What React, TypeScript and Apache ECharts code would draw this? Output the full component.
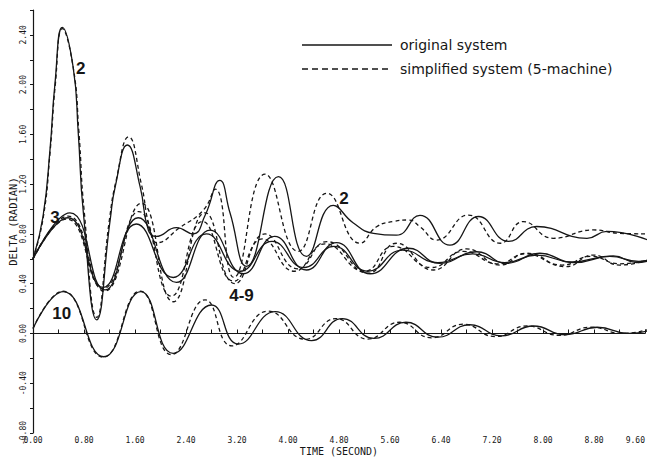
import React, { useEffect, useRef } from "react";
import * as echarts from "echarts";

// ---- data (time in seconds, delta in radians) ----
const m2OrigT = [0, 0.157, 0.267, 0.345, 0.46, 0.63, 0.71, 0.79, 1.0, 1.21, 1.29, 1.48, 1.68, 1.81, 1.93, 2.25, 2.51, 2.7, 2.93, 3.09, 3.35, 3.85, 4.29, 4.71, 5.02, 5.34, 5.7, 6.07, 6.54, 6.99, 7.46, 7.9, 8.69, 9.0, 9.7];
const m2OrigV = [0.6, 0.94, 1.48, 2.01, 2.46, 2.14, 1.61, 0.97, 0.11, 0.91, 1.18, 1.515, 1.18, 0.83, 0.78, 0.85, 0.8, 0.95, 1.23, 0.97, 0.54, 1.26, 0.62, 1.03, 0.89, 0.805, 0.79, 0.95, 0.71, 0.94, 0.74, 0.86, 0.765, 0.82, 0.74];

const m2SimpT = [0, 0.16, 0.27, 0.35, 0.46, 0.63, 0.72, 0.8, 1.0, 1.2, 1.3, 1.5, 1.7, 1.83, 1.95, 2.3, 2.67, 2.86, 3.15, 3.64, 4.16, 4.61, 5.13, 5.39, 5.65, 5.89, 6.07, 6.33, 6.83, 7.33, 7.69, 8.16, 8.79, 9.2, 9.7];
const m2SimpV = [0.6, 0.93, 1.47, 2.0, 2.45, 2.14, 1.62, 1.0, 0.13, 0.92, 1.22, 1.58, 1.2, 0.85, 0.73, 0.85, 0.99, 1.16, 0.45, 1.28, 0.66, 1.127, 0.725, 0.858, 0.9, 0.912, 0.858, 0.751, 0.952, 0.725, 0.899, 0.765, 0.832, 0.805, 0.8];

const m3OrigT = [0, 0.58, 1.13, 1.65, 2.25, 2.78, 3.3, 3.79, 4.29, 4.76, 5.29, 5.89, 6.38, 6.96, 7.43, 7.95, 8.48, 9.1, 9.47, 9.7];
const m3OrigV = [0.6, 0.97, 0.35, 0.93, 0.41, 0.83, 0.48, 0.78, 0.51, 0.73, 0.48, 0.685, 0.564, 0.657, 0.564, 0.645, 0.569, 0.623, 0.57, 0.59];

const m3SimpT = [0, 0.55, 1.12, 1.7, 2.2, 2.7, 3.17, 3.64, 4.15, 4.61, 5.26, 5.7, 6.28, 6.8, 7.33, 7.74, 8.35, 8.79, 9.2, 9.7];
const m3SimpV = [0.6, 0.944, 0.34, 1.046, 0.255, 0.97, 0.4, 0.8, 0.52, 0.738, 0.484, 0.725, 0.51, 0.68, 0.55, 0.645, 0.537, 0.63, 0.55, 0.6];

const m49OrigT = [0, 0.55, 1.1, 1.62, 2.2, 2.72, 3.25, 3.75, 4.25, 4.72, 5.25, 5.8, 6.35, 6.9, 7.4, 7.9, 8.45, 9.05, 9.5, 9.7];
const m49OrigV = [0.6, 0.93, 0.37, 0.88, 0.45, 0.8, 0.5, 0.74, 0.53, 0.7, 0.5, 0.67, 0.57, 0.64, 0.57, 0.63, 0.575, 0.62, 0.58, 0.59];

const m49SimpT = [0, 0.53, 1.1, 1.66, 2.17, 2.66, 3.15, 3.6, 4.1, 4.58, 5.2, 5.65, 6.25, 6.75, 7.3, 7.72, 8.3, 8.75, 9.2, 9.7];
const m49SimpV = [0.6, 0.92, 0.36, 0.98, 0.3, 0.9, 0.42, 0.76, 0.5, 0.72, 0.5, 0.7, 0.53, 0.66, 0.56, 0.64, 0.55, 0.62, 0.56, 0.6];

const m10OrigT = [0, 0.475, 1.11, 1.69, 2.2, 2.8, 3.22, 3.8, 4.37, 4.85, 5.35, 5.85, 6.35, 6.85, 7.35, 7.85, 8.35, 8.85, 9.35, 9.7];
const m10OrigV = [0.04, 0.336, -0.187, 0.336, -0.16, 0.229, -0.085, 0.175, -0.058, 0.12, -0.04, 0.09, -0.03, 0.07, -0.02, 0.06, -0.01, 0.05, 0.0, 0.03];

const m10SimpT = [0, 0.47, 1.1, 1.68, 2.17, 2.7, 3.12, 3.69, 4.27, 4.75, 5.25, 5.75, 6.25, 6.75, 7.25, 7.75, 8.25, 8.75, 9.25, 9.7];
const m10SimpV = [0.04, 0.34, -0.19, 0.34, -0.17, 0.27, -0.1, 0.18, -0.047, 0.12, -0.045, 0.09, -0.035, 0.075, -0.025, 0.06, -0.015, 0.05, 0.0, 0.04];

const curveLabelText = ["2", "3", "10", "4-9", "2"];
const curveLabelT = [0.75, 0.345, 0.45, 3.27, 4.88];
const curveLabelV = [2.13, 0.93, 0.157, 0.309, 1.087];

const legendNames = ["original system", "simplified system (5-machine)"];

const pairs = (t: number[], v: number[]) => t.map((x, i) => [x, v[i]]);

export default function App() {
  const ref = useRef<HTMLDivElement>(null);
  useEffect(() => {
    const chart = echarts.init(ref.current!, null, { renderer: "svg" });
    const ink = "#161616";
    const solid = { color: ink, width: 1.3, type: "solid" as const };
    const dashed = { color: ink, width: 1.3, type: [4, 3] as any };
    const mk = (name: string, t: number[], v: number[], dash: boolean, extra: any = {}) => ({
      type: "line",
      name,
      data: pairs(t, v),
      smooth: 0.5,
      showSymbol: false,
      symbol: "none",
      silent: true,
      clip: true,
      lineStyle: dash ? dashed : solid,
      ...extra,
    });
    const monoFont = "DejaVu Sans Mono";
    chart.setOption({
      animation: false,
      backgroundColor: "#ffffff",
      grid: { left: 33, right: 3, top: 10, bottom: 33, containLabel: false, outerBoundsMode: "none" },
      xAxis: {
        type: "value",
        min: 0,
        max: 9.6,
        interval: 0.4,
        name: "TIME (SECOND)",
        nameLocation: "middle",
        nameGap: 13,
        nameMoveOverlap: false,
        nameTextStyle: { fontFamily: monoFont, fontSize: 10, color: ink },
        axisLine: { lineStyle: { color: ink, width: 1.2 } },
        axisTick: { inside: true, length: 4, lineStyle: { color: ink, width: 1 } },
        splitLine: { show: false },
        axisLabel: {
          margin: 3,
          fontFamily: monoFont,
          fontSize: 8,
          color: ink,
          alignMaxLabel: "right",
          formatter: (v: number) => (Math.round(v * 10) % 8 === 0 ? v.toFixed(2) : ""),
        },
      },
      yAxis: {
        type: "value",
        min: -0.8,
        max: 2.6,
        interval: 0.2,
        name: "DELTA (RADIAN)",
        nameLocation: "middle",
        nameRotate: 90,
        nameGap: 15,
        nameMoveOverlap: false,
        nameTextStyle: { fontFamily: monoFont, fontSize: 10.5, color: ink },
        axisLine: { show: true, lineStyle: { color: ink, width: 1.2 } },
        axisTick: { show: true, inside: false, length: 3, lineStyle: { color: ink, width: 1 } },
        splitLine: { show: false },
        axisLabel: {
          rotate: 90,
          margin: 6,
          fontFamily: monoFont,
          fontSize: 8,
          color: ink,
          formatter: (v: number) => (Math.round(v * 10) % 4 === 0 ? v.toFixed(2) : ""),
        },
      },
      series: [
        mk("m2 original", m2OrigT, m2OrigV, false, {
          markLine: {
            silent: true,
            symbol: ["none", "none"],
            label: { show: false },
            lineStyle: { color: ink, width: 1, type: "solid" },
            data: [{ yAxis: 0 }],
          },
        }),
        mk("m2 simplified", m2SimpT, m2SimpV, true),
        mk("m3 original", m3OrigT, m3OrigV, false),
        mk("m3 simplified", m3SimpT, m3SimpV, true),
        mk("m4-9 original", m49OrigT, m49OrigV, false),
        mk("m4-9 simplified", m49SimpT, m49SimpV, true),
        mk("m10 original", m10OrigT, m10OrigV, false),
        mk("m10 simplified", m10SimpT, m10SimpV, true),
      ],
    });

    const labelEls = curveLabelText.map((text, i) => {
      const p = chart.convertToPixel({ gridIndex: 0 }, [curveLabelT[i], curveLabelV[i]]) as number[];
      return {
        type: "text",
        x: p[0],
        y: p[1],
        silent: true,
        style: {
          text,
          fill: ink,
          font: 'bold 17px "Liberation Sans", Arial, sans-serif',
          align: "center",
          verticalAlign: "middle",
          textAlign: "center",
          textVerticalAlign: "middle",
        },
      };
    });
    const legendFont = '14px "DejaVu Sans", sans-serif';
    chart.setOption({
      graphic: [
        { type: "line", silent: true, shape: { x1: 302, y1: 45, x2: 392, y2: 45 }, style: { stroke: ink, lineWidth: 1.3 } },
        { type: "line", silent: true, shape: { x1: 302, y1: 69, x2: 392, y2: 69 }, style: { stroke: ink, lineWidth: 1.3, lineDash: [6, 4] } },
        { type: "text", silent: true, x: 400, y: 45, style: { text: legendNames[0], fill: ink, font: legendFont, verticalAlign: "middle", textVerticalAlign: "middle" } },
        { type: "text", silent: true, x: 400, y: 69, style: { text: legendNames[1], fill: ink, font: legendFont, verticalAlign: "middle", textVerticalAlign: "middle" } },
        ...labelEls,
      ],
    });
    return () => chart.dispose();
  }, []);
  return (
    <div
      ref={ref}
      style={{ position: "absolute", left: 0, top: 0, width: 648, height: 466, background: "#fff" }}
    />
  );
}
